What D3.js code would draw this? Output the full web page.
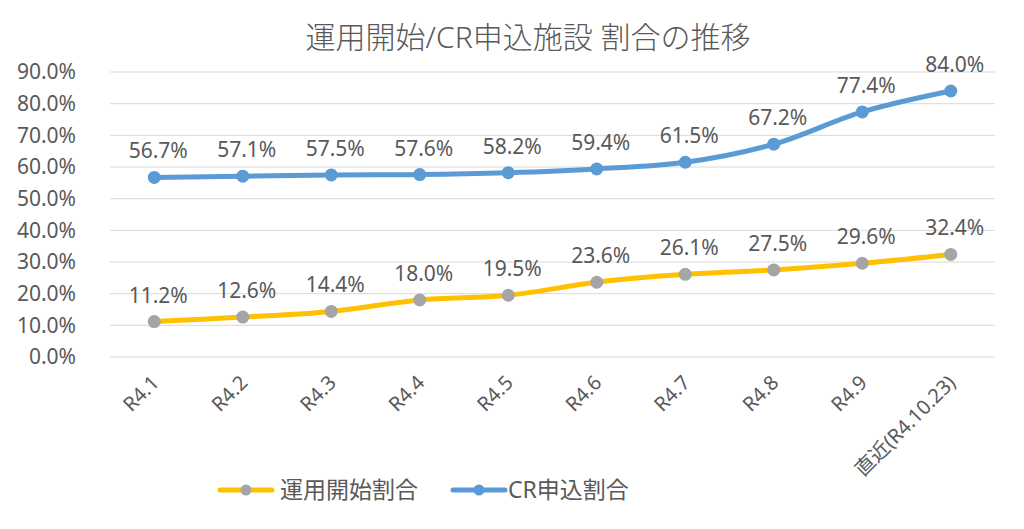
<!DOCTYPE html>
<html>
<head>
<meta charset="utf-8">
<script src="https://cdn.jsdelivr.net/npm/d3@7"></script>
<style>
  body { margin: 0; background: #fff; }
  text { font-family: "Noto Sans", "Noto Sans CJK JP", sans-serif; fill: #595959; }
</style>
</head>
<body>
<div id="chart"></div>
<script>
// data
const categories = ["R4.1", "R4.2", "R4.3", "R4.4", "R4.5", "R4.6", "R4.7", "R4.8", "R4.9", "直近(R4.10.23)"];
const startRates = [11.2, 12.6, 14.4, 18.0, 19.5, 23.6, 26.1, 27.5, 29.6, 32.4];
const crRates = [56.7, 57.1, 57.5, 57.6, 58.2, 59.4, 61.5, 67.2, 77.4, 84.0];
const yTicks = [0, 10, 20, 30, 40, 50, 60, 70, 80, 90];
const seriesNames = ["運用開始割合", "CR申込割合"];

const width = 1024, height = 529;
const plot = { left: 110, right: 995, top: 72, bottom: 357 };

const svg = d3.select("#chart").append("svg")
  .attr("width", width)
  .attr("height", height);

const x = d3.scaleBand().domain(categories).range([plot.left, plot.right]);
const y = d3.scaleLinear().domain([0, 90]).range([plot.bottom, plot.top]);
const cx = d => x(d) + x.bandwidth() / 2;

// title
svg.append("text")
  .attr("x", 528).attr("y", 48)
  .attr("text-anchor", "middle")
  .attr("font-size", 30)
  .attr("font-weight", 300)
  .text("運用開始/CR申込施設 割合の推移");

// grid + y labels
const grid = svg.append("g");
grid.selectAll("line").data(yTicks).join("line")
  .attr("x1", plot.left).attr("x2", plot.right)
  .attr("y1", d => y(d)).attr("y2", d => y(d))
  .attr("stroke", "#d9d9d9").attr("stroke-width", 1);
grid.selectAll("text").data(yTicks).join("text")
  .attr("x", 76).attr("y", d => y(d))
  .attr("dy", "0.35em")
  .attr("text-anchor", "end")
  .attr("font-size", 21)
  .text(d => d.toFixed(1) + "%");

// x labels
svg.append("g").selectAll("text").data(categories).join("text")
  .attr("transform", d => `translate(${cx(d) + 6},${384}) rotate(-45)`)
  .attr("text-anchor", "end")
  .attr("font-size", 20)
  .text(d => d);

const series = [
  { name: seriesNames[0], values: startRates, line: "#ffc000", marker: "#a5a5a5" },
  { name: seriesNames[1], values: crRates, line: "#5b9bd5", marker: "#5b9bd5" }
];

const lineGen = d3.line()
  .x((d, i) => cx(categories[i]))
  .y(d => y(d))
  .curve(d3.curveCatmullRom);

series.forEach(s => {
  const g = svg.append("g");
  g.append("path")
    .attr("d", lineGen(s.values))
    .attr("fill", "none")
    .attr("stroke", s.line)
    .attr("stroke-width", 5)
    .attr("stroke-linecap", "round");
  g.selectAll("circle").data(s.values).join("circle")
    .attr("cx", (d, i) => cx(categories[i]))
    .attr("cy", d => y(d))
    .attr("r", 6.5)
    .attr("fill", s.marker);
  g.selectAll("text").data(s.values).join("text")
    .attr("x", (d, i) => cx(categories[i]) + 4)
    .attr("y", d => y(d) - 19)
    .attr("text-anchor", "middle")
    .attr("font-size", 21)
    .text(d => d.toFixed(1) + "%");
});

// legend
const legendItems = [
  { s: series[0], x: 220, tx: 280 },
  { s: series[1], x: 453, tx: 508 }
];
const lg = svg.append("g");
legendItems.forEach(it => {
  lg.append("line")
    .attr("x1", it.x).attr("x2", it.x + 52)
    .attr("y1", 490).attr("y2", 490)
    .attr("stroke", it.s.line).attr("stroke-width", 5)
    .attr("stroke-linecap", "round");
  lg.append("circle")
    .attr("cx", it.x + 26).attr("cy", 490).attr("r", 5.5)
    .attr("fill", it.s.marker);
  lg.append("text")
    .attr("x", it.tx).attr("y", 490)
    .attr("dy", "0.35em")
    .attr("font-size", 23)
    .text(it.s.name);
});
</script>
</body>
</html>
